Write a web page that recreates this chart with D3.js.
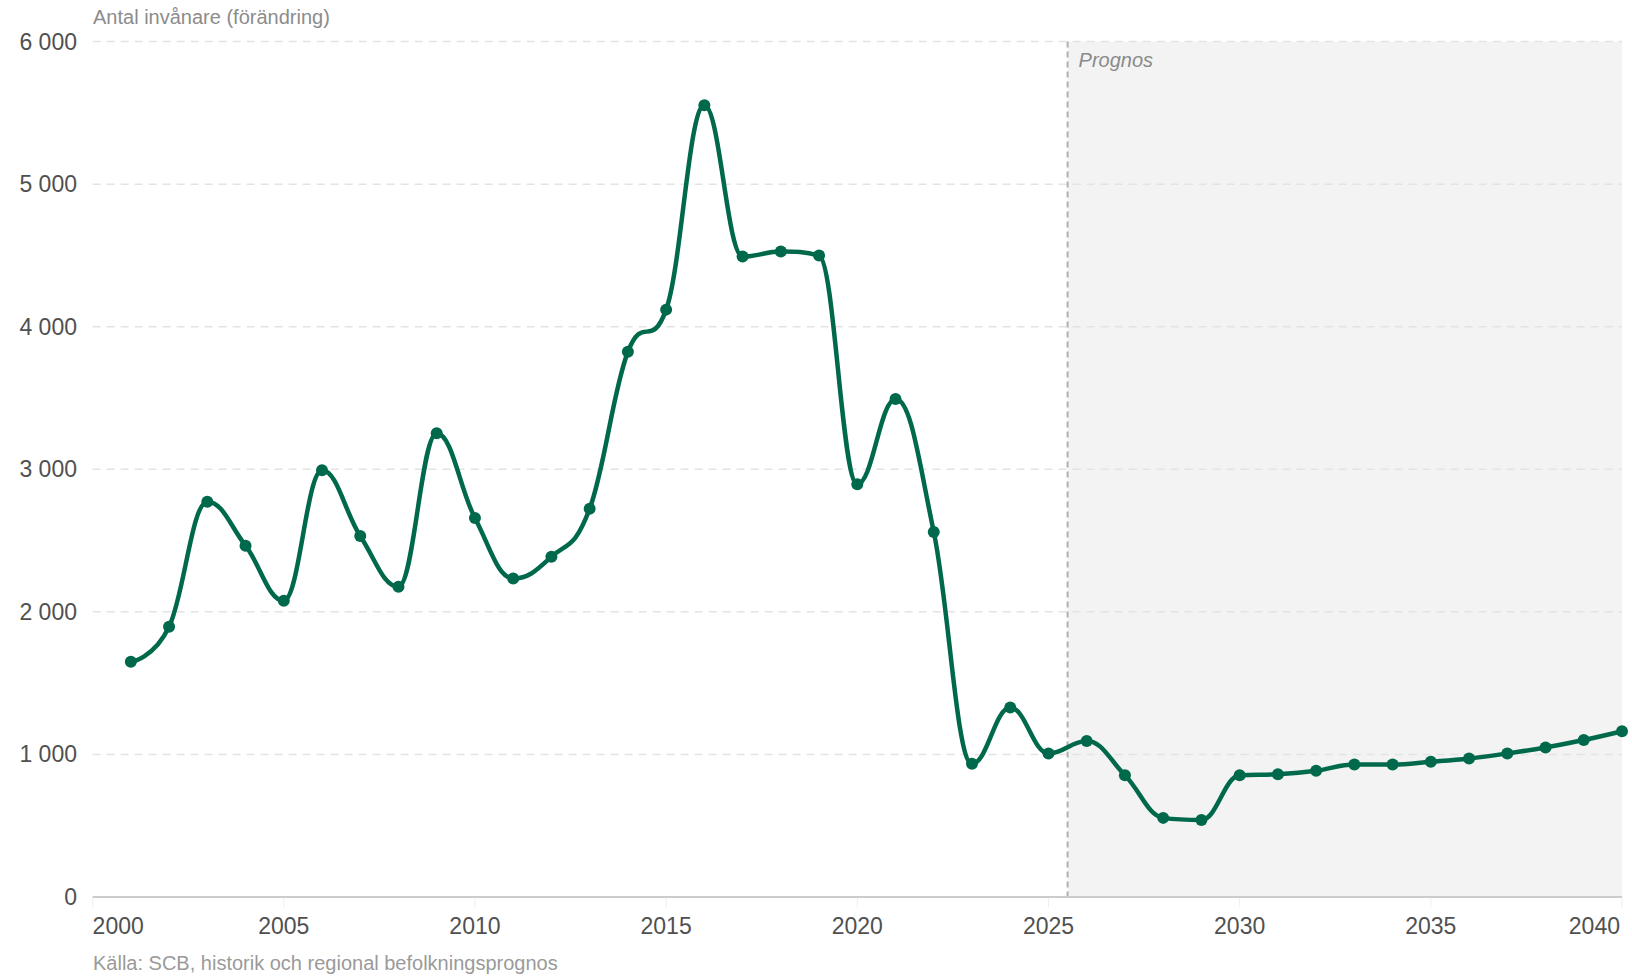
<!DOCTYPE html>
<html>
<head>
<meta charset="utf-8">
<script src="https://cdn.jsdelivr.net/npm/d3@7"></script>
<style>
  body { margin: 0; background: #fff; }
  svg { display: block; font-family: "Liberation Sans", Arial, sans-serif; }
</style>
</head>
<body>
<div id="chart"></div>
<script>
const WIDTH = 1632, HEIGHT = 977;
const MARGIN = { top: 41.6, right: 10, bottom: 80, left: 92.6 };

// data
const years = [2001, 2002, 2003, 2004, 2005, 2006, 2007, 2008, 2009, 2010,
  2011, 2012, 2013, 2014, 2015, 2016, 2017, 2018, 2019, 2020,
  2021, 2022, 2023, 2024, 2025, 2026, 2027, 2028, 2029, 2030,
  2031, 2032, 2033, 2034, 2035, 2036, 2037, 2038, 2039, 2040];
const change = [1650, 1895, 2773, 2464, 2078, 2993, 2532, 2176, 3253, 2658,
  2234, 2387, 2723, 3824, 4120, 5553, 4492, 4527, 4499, 2895,
  3493, 2561, 934, 1329, 1007, 1095, 854, 555, 540, 854,
  861, 885, 930, 930, 949, 972, 1007, 1049, 1101, 1163];
const yTicks = [0, 1000, 2000, 3000, 4000, 5000, 6000];
const xTicks = [2000, 2005, 2010, 2015, 2020, 2025, 2030, 2035, 2040];
const prognosStart = 2025.5;

const TITLE = 'Antal invånare (förändring)';
const SOURCE = 'Källa: SCB, historik och regional befolkningsprognos';
const PROGNOS = 'Prognos';

const LINE_COLOR = '#00694b';

const fmt = d3.formatLocale({ decimal: ',', thousands: ' ', grouping: [3], currency: ['', ' kr'] }).format(',');

// spline in the style of the original charting tool (control points at 0.4, no false extremes)
function curveSpline(context) {
  let pts;
  return {
    areaStart() {}, areaEnd() {},
    lineStart() { pts = []; },
    point(x, y) { pts.push([+x, +y]); },
    lineEnd() {
      let prevRight = null;
      pts.forEach((pt, i) => {
        if (i === 0) { context.moveTo(pt[0], pt[1]); return; }
        const last = pts[i - 1], next = pts[i + 1];
        let lc = pt, rc = null;
        if (next) {
          let lx = (1.5 * pt[0] + last[0]) / 2.5, ly = (1.5 * pt[1] + last[1]) / 2.5;
          let rx = (1.5 * pt[0] + next[0]) / 2.5, ry = (1.5 * pt[1] + next[1]) / 2.5;
          const corr = rx !== lx ? (ry - ly) * (rx - pt[0]) / (rx - lx) + pt[1] - ry : 0;
          ly += corr; ry += corr;
          if (ly > last[1] && ly > pt[1]) { ly = Math.max(last[1], pt[1]); ry = 2 * pt[1] - ly; }
          else if (ly < last[1] && ly < pt[1]) { ly = Math.min(last[1], pt[1]); ry = 2 * pt[1] - ly; }
          if (ry > next[1] && ry > pt[1]) { ry = Math.max(next[1], pt[1]); ly = 2 * pt[1] - ry; }
          else if (ry < next[1] && ry < pt[1]) { ry = Math.min(next[1], pt[1]); ly = 2 * pt[1] - ry; }
          lc = [lx, ly]; rc = [rx, ry];
        }
        const c1 = prevRight || last;
        context.bezierCurveTo(c1[0], c1[1], lc[0], lc[1], pt[0], pt[1]);
        prevRight = rc;
      });
    }
  };
}

const svg = d3.select('#chart')
  .append('svg')
  .attr('width', WIDTH)
  .attr('height', HEIGHT);

const xScale = d3.scaleLinear()
  .domain([2000, 2040])
  .range([MARGIN.left, WIDTH - MARGIN.right]);

const yScale = d3.scaleLinear()
  .domain([0, 6000])
  .range([HEIGHT - MARGIN.bottom, MARGIN.top]);

// prognos band
svg.append('rect')
  .attr('x', xScale(prognosStart))
  .attr('y', yScale(6000))
  .attr('width', xScale(2040) - xScale(prognosStart))
  .attr('height', yScale(0) - yScale(6000))
  .attr('fill', '#f3f3f3');

// grid
svg.append('g')
  .selectAll('line')
  .data(yTicks.filter(d => d > 0))
  .join('line')
  .attr('x1', MARGIN.left)
  .attr('x2', WIDTH - MARGIN.right)
  .attr('y1', d => yScale(d))
  .attr('y2', d => yScale(d))
  .attr('stroke', '#e3e3e3')
  .attr('stroke-width', 1.5)
  .attr('stroke-dasharray', '8,6');

// prognos divider
svg.append('line')
  .attr('x1', xScale(prognosStart))
  .attr('x2', xScale(prognosStart))
  .attr('y1', yScale(6000))
  .attr('y2', yScale(0))
  .attr('stroke', '#b0b0b0')
  .attr('stroke-width', 2)
  .attr('stroke-dasharray', '6,4');

svg.append('text')
  .attr('x', xScale(prognosStart) + 11)
  .attr('y', 67)
  .attr('font-size', 20)
  .attr('font-style', 'italic')
  .attr('fill', '#8a8a8a')
  .text(PROGNOS);

// y axis labels
svg.append('g')
  .selectAll('text')
  .data(yTicks)
  .join('text')
  .attr('x', 77)
  .attr('y', d => yScale(d))
  .attr('dy', '0.35em')
  .attr('text-anchor', 'end')
  .attr('font-size', 23)
  .attr('fill', '#505050')
  .text(d => fmt(d));

// x axis
const xAxis = svg.append('g')
  .attr('transform', `translate(0,${yScale(0)})`);

xAxis.append('line')
  .attr('x1', MARGIN.left)
  .attr('x2', WIDTH - MARGIN.right)
  .attr('stroke', '#cccccc')
  .attr('stroke-width', 2);

xAxis.selectAll('.tick')
  .data(xTicks)
  .join('line')
  .attr('class', 'tick')
  .attr('x1', d => xScale(d))
  .attr('x2', d => xScale(d))
  .attr('y1', 1)
  .attr('y2', 10)
  .attr('stroke', '#eeeeee')
  .attr('stroke-width', 1);

xAxis.selectAll('text')
  .data(xTicks)
  .join('text')
  .attr('x', (d, i) => i === 0 ? MARGIN.left : (i === xTicks.length - 1 ? WIDTH - MARGIN.right - 2 : xScale(d)))
  .attr('y', 37)
  .attr('text-anchor', (d, i) => i === 0 ? 'start' : (i === xTicks.length - 1 ? 'end' : 'middle'))
  .attr('font-size', 23)
  .attr('fill', '#505050')
  .text(d => d);

// series
const points = years.map((y, i) => [y, change[i]]);

const line = d3.line()
  .x(d => xScale(d[0]))
  .y(d => yScale(d[1]))
  .curve(curveSpline);

svg.append('path')
  .datum(points)
  .attr('d', line)
  .attr('fill', 'none')
  .attr('stroke', LINE_COLOR)
  .attr('stroke-width', 4.5)
  .attr('stroke-linejoin', 'round')
  .attr('stroke-linecap', 'round');

svg.append('g')
  .selectAll('circle')
  .data(points)
  .join('circle')
  .attr('cx', d => xScale(d[0]))
  .attr('cy', d => yScale(d[1]))
  .attr('r', 6)
  .attr('fill', LINE_COLOR);

// titles
svg.append('text')
  .attr('x', 93)
  .attr('y', 24)
  .attr('font-size', 20)
  .attr('fill', '#8c8c8c')
  .text(TITLE);

svg.append('text')
  .attr('x', 93)
  .attr('y', 970)
  .attr('font-size', 20)
  .attr('fill', '#9a9a9a')
  .text(SOURCE);
</script>
</body>
</html>
